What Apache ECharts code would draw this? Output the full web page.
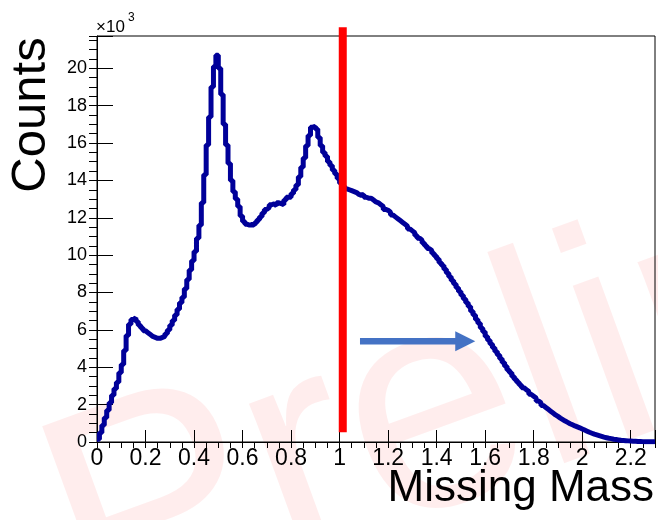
<!DOCTYPE html>
<html>
<head>
<meta charset="utf-8">
<script src="https://cdn.jsdelivr.net/npm/echarts@6/dist/echarts.min.js"></script>
<style>
  html, body { margin: 0; padding: 0; background: #fff; }
  #chart { width: 658px; height: 520px; }
</style>
</head>
<body>
<div id="chart"></div>
<script>
// Missing-mass spectrum, 0.01-wide bins starting at 0; counts in units of 10^3
const binStart = 0;
const binWidth = 0.01;
const counts = [
  0.15, 0.5, 0.9, 1.3, 1.7, 2.1, 2.5, 2.85, 3.2, 3.7,
  4.15, 4.9, 5.7, 6.3, 6.55, 6.65, 6.45, 6.25, 6.1, 5.95,
  5.85, 5.75, 5.65, 5.6, 5.55, 5.55, 5.6, 5.65, 5.8, 6.0,
  6.25, 6.5, 6.8, 7.1, 7.45, 7.75, 8.2, 8.7, 9.2, 9.7,
  10.2, 10.9, 11.6, 12.8, 14.3, 15.9, 17.4, 19.0, 20.1, 20.7,
  20.0, 18.6, 17.0, 15.9, 14.9, 14.0, 13.4, 13.0, 12.6, 12.1,
  11.8, 11.65, 11.6, 11.65, 11.6, 11.75, 11.9, 12.05, 12.25, 12.45,
  12.55, 12.7, 12.75, 12.65, 12.8, 12.75, 12.7, 12.95, 13.1, 13.1,
  13.3, 13.5, 13.75, 14.2, 14.7, 15.2, 15.85, 16.4, 16.85, 16.9,
  16.75, 16.3, 15.85, 15.5, 15.3, 15.0, 14.8, 14.55, 14.35, 14.1,
  13.85, 13.7, 13.55, 13.5, 13.45, 13.4, 13.35, 13.25, 13.2, 13.25,
  13.1, 13.05, 13.05, 12.95, 12.85, 12.8, 12.7, 12.6, 12.45, 12.4,
  12.3, 12.15, 12.05, 11.95, 11.85, 11.75, 11.65, 11.55, 11.4, 11.3,
  11.2, 11.05, 10.9, 10.8, 10.65, 10.5, 10.35, 10.25, 10.1, 9.95,
  9.8, 9.6, 9.45, 9.25, 9.05, 8.85, 8.65, 8.45, 8.25, 8.05,
  7.85, 7.65, 7.45, 7.25, 7.0, 6.8, 6.55, 6.35, 6.1, 5.9,
  5.65, 5.45, 5.25, 5.05, 4.85, 4.65, 4.45, 4.25, 4.05, 3.85,
  3.7, 3.5, 3.35, 3.2, 3.05, 2.9, 2.8, 2.7, 2.55, 2.45,
  2.35, 2.2, 2.1, 1.95, 1.85, 1.75, 1.65, 1.55, 1.45, 1.37,
  1.28, 1.2, 1.12, 1.05, 0.98, 0.92, 0.86, 0.81, 0.76, 0.7,
  0.64, 0.58, 0.52, 0.47, 0.42, 0.38, 0.34, 0.3, 0.26, 0.23,
  0.2, 0.18, 0.15, 0.13, 0.11, 0.09, 0.08, 0.07, 0.06, 0.05,
  0.04, 0.04, 0.03, 0.03, 0.02, 0.02, 0.02, 0.01, 0.01, 0.01
];

// Axis ranges and tick steps
const xRange = [0, 2.3];
const yRange = [0, 21.73];
const xMajorStep = 0.2, xMinorStep = 0.05;
const yMajorStep = 2, yMinorStep = 0.5;
const xLastLabel = 2.2, yLastLabel = 20;

// Annotations: cut position (red bar) and selection arrow
const cutValue = 1.013;
const cutSpan = [0.52, 22.2];
const arrowSpan = [1.084, 1.559];
const arrowLevel = 5.39;

const FONT = '"Liberation Sans", Arial, sans-serif';

// Histogram outline as low-edge points, closed at the last high edge
const points = counts.map((v, i) => [binStart + i * binWidth, v]);
points.push([binStart + counts.length * binWidth, counts[counts.length - 1]]);

const isStep = (v, step, last) =>
  Math.abs(v / step - Math.round(v / step)) < 1e-6 && v <= last + 1e-6;

const axisCommon = {
  type: 'value',
  splitLine: { show: false },
  axisLine: { show: true, onZero: false, lineStyle: { color: '#000', width: 1 } }
};

const option = {
  animation: false,
  backgroundColor: '#fff',
  grid: { left: 97, right: 3, top: 36, bottom: 78, show: true, borderColor: '#000', borderWidth: 1, containLabel: false },
  xAxis: [
    Object.assign({}, axisCommon, {
      min: xRange[0], max: xRange[1], interval: xMajorStep,
      axisTick: { show: true, inside: true, length: 12, lineStyle: { color: '#000', width: 1 } },
      axisLabel: {
        margin: 5, fontFamily: FONT, fontSize: 23, color: '#000',
        formatter: v => isStep(v, xMajorStep, xLastLabel) ? String(+v.toFixed(1)) : ''
      }
    }),
    Object.assign({}, axisCommon, {
      min: xRange[0], max: xRange[1], interval: xMinorStep,
      axisLine: { show: false },
      axisTick: { show: true, inside: true, length: 6, lineStyle: { color: '#000', width: 1 } },
      axisLabel: { show: false }
    })
  ],
  yAxis: [
    Object.assign({}, axisCommon, {
      min: yRange[0], max: yRange[1], interval: yMajorStep,
      axisTick: { show: true, inside: true, length: 16, lineStyle: { color: '#000', width: 1 } },
      axisLabel: {
        margin: 10, fontFamily: FONT, fontSize: 18, color: '#000',
        formatter: v => isStep(v, yMajorStep, yLastLabel) ? String(Math.round(v)) : ''
      }
    }),
    Object.assign({}, axisCommon, {
      min: yRange[0], max: yRange[1], interval: yMinorStep,
      axisLine: { show: false },
      axisTick: { show: true, inside: true, length: 8, lineStyle: { color: '#000', width: 1 } },
      axisLabel: { show: false }
    })
  ],
  series: [{
    type: 'line',
    xAxisIndex: 0, yAxisIndex: 0,
    data: points,
    step: 'end',
    symbol: 'none',
    showSymbol: false,
    clip: true,
    z: 5,
    lineStyle: { color: '#000099', width: 5, join: 'bevel', cap: 'butt' }
  }]
};

const chart = echarts.init(document.getElementById('chart'), null, { renderer: 'canvas' });
chart.setOption(option);

const px = (x, y) => chart.convertToPixel({ xAxisIndex: 0, yAxisIndex: 0 }, [x, y]);
const cutTop = px(cutValue, cutSpan[1]);
const cutBot = px(cutValue, cutSpan[0]);
const arrowStart = px(arrowSpan[0], arrowLevel);
const arrowEnd = px(arrowSpan[1], arrowLevel);
const headLen = 20, headHalf = 10;

chart.setOption({
  graphic: [
    {
      type: 'text', id: 'watermark', z: -10, silent: true,
      x: 62, y: 555, rotation: 20 * Math.PI / 180,
      style: { text: 'Preliminary', font: '310px ' + FONT, fill: 'rgba(255,0,0,0.07)', verticalAlign: 'middle', align: 'left' }
    },
    {
      type: 'text', id: 'ylabel', silent: true,
      x: 31, y: 115, rotation: Math.PI / 2,
      style: { text: 'Counts', font: '49px ' + FONT, fill: '#000', align: 'center', verticalAlign: 'middle' }
    },
    {
      type: 'text', id: 'xlabel', silent: true,
      x: 654, y: 489,
      style: { text: 'Missing Mass', font: '44px ' + FONT, fill: '#000', align: 'right', verticalAlign: 'middle' }
    },
    {
      type: 'text', id: 'exp', silent: true,
      x: 96, y: 27,
      style: { text: '×10', font: '17px ' + FONT, fill: '#000', align: 'left', verticalAlign: 'middle' }
    },
    {
      type: 'text', id: 'exp3', silent: true,
      x: 128, y: 18,
      style: { text: '3', font: '12px ' + FONT, fill: '#000', align: 'left', verticalAlign: 'middle' }
    },
    {
      type: 'line', id: 'cut', z: 10, silent: true,
      shape: { x1: cutTop[0], y1: cutTop[1], x2: cutBot[0], y2: cutBot[1] },
      style: { stroke: '#ff0000', lineWidth: 8 }
    },
    {
      type: 'line', id: 'arrowShaft', z: 10, silent: true,
      shape: { x1: arrowStart[0], y1: arrowStart[1], x2: arrowEnd[0] - headLen + 2, y2: arrowEnd[1] },
      style: { stroke: '#4472c4', lineWidth: 6.5 }
    },
    {
      type: 'polygon', id: 'arrowHead', z: 10, silent: true,
      shape: { points: [
        [arrowEnd[0] - headLen, arrowEnd[1] - headHalf],
        [arrowEnd[0], arrowEnd[1]],
        [arrowEnd[0] - headLen, arrowEnd[1] + headHalf]
      ] },
      style: { fill: '#4472c4' }
    }
  ]
});
</script>
</body>
</html>
